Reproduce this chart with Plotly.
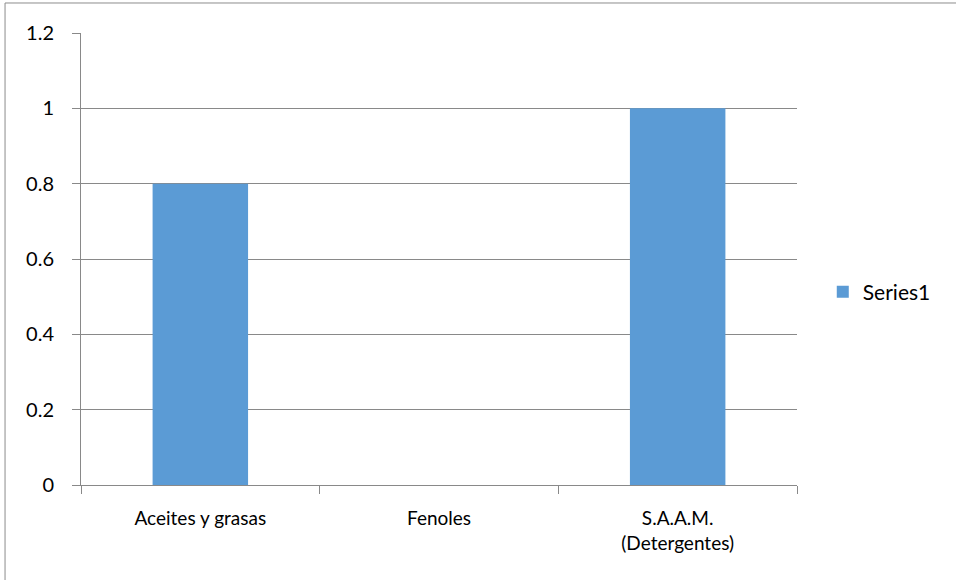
import plotly.graph_objects as go

categories = ["Aceites y grasas", "Fenoles", "S.A.A.M.<br>(Detergentes)"]
series1 = [0.8, 0, 1.0]
y_ticks = [0, 0.2, 0.4, 0.6, 0.8, 1, 1.2]
y_tick_text = ["0", "0.2", "0.4", "0.6", "0.8", "1", "1.2"]

FONT = "Lato, Calibri, Carlito, sans-serif"
GRID = "#898989"
FS = 19

fig = go.Figure(
    go.Bar(
        x=categories,
        y=series1,
        name="Series1",
        marker=dict(color="#5B9BD5", line=dict(width=0)),
        showlegend=True,
    )
)

fig.update_layout(
    width=956,
    height=580,
    margin=dict(l=81, r=159, t=33, b=95),
    paper_bgcolor="white",
    plot_bgcolor="white",
    bargap=0.6,
    font=dict(family=FONT, size=FS, color="#000000"),
    showlegend=True,
    legend=dict(
        x=1.036, y=0.427, xanchor="left", yanchor="middle",
        font=dict(family=FONT, size=21, color="#000000"),
        itemwidth=30, bgcolor="rgba(0,0,0,0)",
    ),
    xaxis=dict(
        showline=True, linecolor=GRID, linewidth=1,
        ticks="outside", tickson="boundaries", ticklen=8, tickcolor=GRID,
        showgrid=False, ticklabelstandoff=16,
        tickfont=dict(family=FONT, size=FS),
    ),
    yaxis=dict(
        range=[0, 1.2], tickvals=y_ticks, ticktext=y_tick_text,
        showline=True, linecolor=GRID, linewidth=1,
        showgrid=True, gridcolor=GRID, gridwidth=1,
        ticks="outside", ticklen=8, tickcolor=GRID,
        zeroline=False, ticklabelstandoff=14,
        tickfont=dict(family=FONT, size=20),
    ),
    shapes=[
        dict(
            type="rect", xref="paper", yref="paper",
            x0=-0.1061, x1=1.23, y0=-0.25, y1=1.0664,
            line=dict(color="#8C8C8C", width=1), fillcolor="rgba(0,0,0,0)",
            layer="below",
        )
    ],
)

fig.write_html("out.html")
